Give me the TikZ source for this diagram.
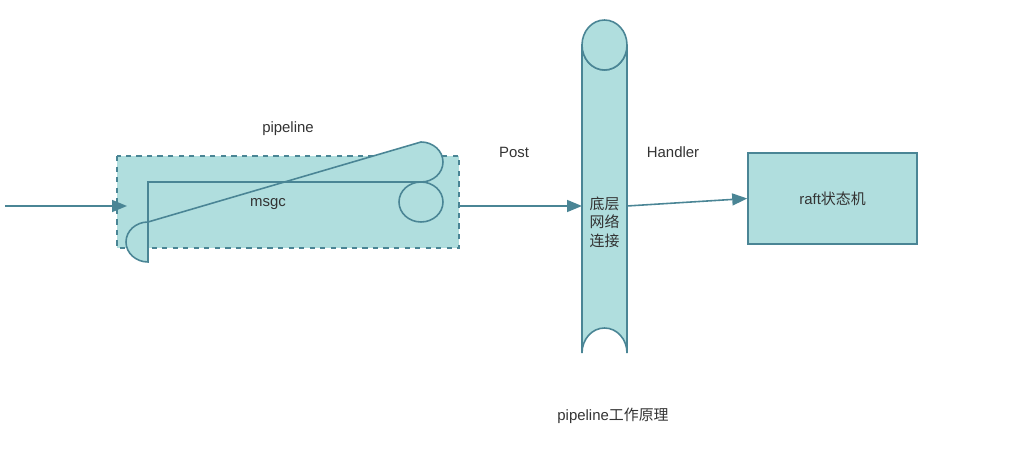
\documentclass[tikz,border=0pt]{standalone}
\usepackage{fontspec}
\setmainfont{Liberation Sans}
\newfontfamily\cjk{Noto Sans CJK SC}
\usetikzlibrary{arrows.meta,positioning}
\definecolor{boxfill}{HTML}{B0DEDE}
\definecolor{boxline}{HTML}{4A8595}
\definecolor{txt}{HTML}{333333}
\tikzset{
    -{Triangle[length=3mm,width=2.4mm]},semithick,
    flow/.style ={draw=boxline, line width=0.9pt},
    tealbox/.style ={draw=boxline, fill=boxfill, line width=0.9pt},
    lbl/.style = {text=txt, font=\fontsize{8.5}{10.5}\selectfont, align=center}
}
\begin{document}
\begin{tikzpicture}[x=0.02cm,y=-0.02cm]
        \useasboundingbox (0,0) rectangle (1023,455);
        % pipeline box
        \draw[tealbox,dashed,-] (117,156) rectangle (459,248);
        \node (pipe) at (288,206) [minimum width=342*0.02cm, minimum height=92*0.02cm] {};
        \path[tealbox,-] (148,182) -- (421,182) arc[start angle=90,end angle=-90,x radius=22,y radius=20]
              -- (148,222) arc[start angle=270,end angle=90,x radius=22,y radius=20] -- cycle;
        \draw[tealbox,-] (421,202) ellipse[x radius=22,y radius=20];
        \node[lbl] (msgc) at (268,204) {msgc};
        \node[lbl] (pl) at (288,129) {pipeline};
        \coordinate (in) at (5,206);
        \coordinate (tube) at (127,206);
        % network tube
        \path[tealbox,-] (582,45) -- (582,353) arc[start angle=180,end angle=360,x radius=22.5,y radius=25]
              -- (627,45) arc[start angle=0,end angle=180,x radius=22.5,y radius=25] -- cycle;
        \draw[tealbox,-] (604.5,45) ellipse[x radius=22.5,y radius=25];
        \node[lbl,inner sep=0pt] (net) at (604.5,222) {\cjk 底层\\\cjk 网络\\\cjk 连接};
        \coordinate (netL) at (582,206);
        \coordinate (netR) at (627,206);
        % raft
        \node[tealbox,lbl,minimum width=169*0.02cm,minimum height=91*0.02cm] (raft) at (832.5,198.5) {raft{\cjk 状态机}};
        \node[lbl] (post) at (514,152) {Post};
        \node[lbl] (hdl) at (673,152) {Handler};
        \node[lbl] (title) at (613,416) {pipeline{\cjk 工作原理}};

        \draw[flow] (in) -- (tube);
        \draw[flow] (pipe.east) -- (netL);
        \draw[flow] (netR) -- (raft.west);
\end{tikzpicture}
\end{document}
